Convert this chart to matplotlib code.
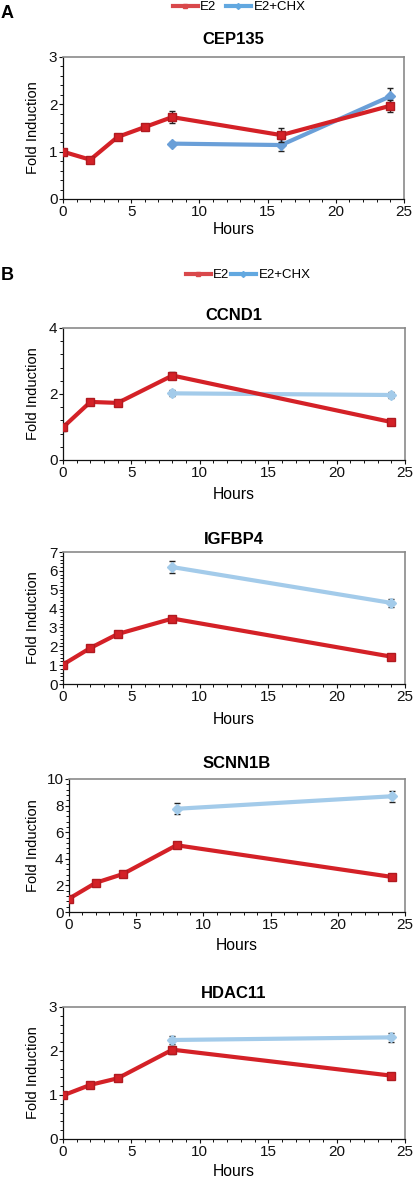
import matplotlib
matplotlib.use("Agg")
import matplotlib.pyplot as plt
from matplotlib.ticker import MultipleLocator
from matplotlib.lines import Line2D

plt.rcParams['font.family'] = ['Liberation Sans', 'DejaVu Sans']

# ---- data ----
genes = ["CEP135", "CCND1", "IGFBP4", "SCNN1B", "HDAC11"]

cep135_e2_x = [0, 2, 4, 6, 8, 16, 24]
cep135_e2_y = [1.0, 0.83, 1.31, 1.52, 1.73, 1.35, 1.97]
cep135_e2_err = [0.02, 0.03, 0.04, 0.07, 0.12, 0.14, 0.13]
cep135_chx_x = [8, 16, 24]
cep135_chx_y = [1.17, 1.14, 2.17]
cep135_chx_err = [0.03, 0.12, 0.17]

ccnd1_e2_x = [0, 2, 4, 8, 24]
ccnd1_e2_y = [0.99, 1.76, 1.73, 2.56, 1.15]
ccnd1_e2_err = [0.1, 0.05, 0.06, 0.12, 0.06]
ccnd1_chx_x = [8, 24]
ccnd1_chx_y = [2.02, 1.97]
ccnd1_chx_err = [0.09, 0.08]

igfbp4_e2_x = [0, 2, 4, 8, 24]
igfbp4_e2_y = [1.03, 1.91, 2.65, 3.47, 1.45]
igfbp4_e2_err = [0.12, 0.1, 0.12, 0.12, 0.1]
igfbp4_chx_x = [8, 24]
igfbp4_chx_y = [6.2, 4.3]
igfbp4_chx_err = [0.3, 0.2]

scnn1b_e2_x = [0, 2, 4, 8, 24]
scnn1b_e2_y = [1.0, 2.2, 2.85, 5.02, 2.64]
scnn1b_e2_err = [0.2, 0.15, 0.15, 0.2, 0.15]
scnn1b_chx_x = [8, 24]
scnn1b_chx_y = [7.76, 8.7]
scnn1b_chx_err = [0.4, 0.4]

hdac11_e2_x = [0, 2, 4, 8, 24]
hdac11_e2_y = [0.99, 1.23, 1.38, 2.03, 1.44]
hdac11_e2_err = [0.03, 0.03, 0.03, 0.09, 0.03]
hdac11_chx_x = [8, 24]
hdac11_chx_y = [2.25, 2.31]
hdac11_chx_err = [0.09, 0.1]

x_ticks = [0, 5, 10, 15, 20, 25]

# ---- style ----
W, H = 414, 1179
RED = '#d42127'
BLUE_A = '#6a9fd8'
BLUE_B = '#a3cbea'

panels = [
    ("CEP135", (cep135_e2_x, cep135_e2_y, cep135_e2_err), (cep135_chx_x, cep135_chx_y, cep135_chx_err),
     3, 1, 0.2, (63, 404, 57, 199), 40, 229, BLUE_A),
    ("CCND1", (ccnd1_e2_x, ccnd1_e2_y, ccnd1_e2_err), (ccnd1_chx_x, ccnd1_chx_y, ccnd1_chx_err),
     4, 2, 0.4, (63, 405, 328, 460), 315, 494, BLUE_B),
    ("IGFBP4", (igfbp4_e2_x, igfbp4_e2_y, igfbp4_e2_err), (igfbp4_chx_x, igfbp4_chx_y, igfbp4_chx_err),
     7, 1, 0.2, (63, 405, 552, 684), 539, 719, BLUE_B),
    ("SCNN1B", (scnn1b_e2_x, scnn1b_e2_y, scnn1b_e2_err), (scnn1b_chx_x, scnn1b_chx_y, scnn1b_chx_err),
     10, 2, 0.4, (69, 405, 779, 912), 764, 946, BLUE_B),
    ("HDAC11", (hdac11_e2_x, hdac11_e2_y, hdac11_e2_err), (hdac11_chx_x, hdac11_chx_y, hdac11_chx_err),
     3, 1, 0.2, (63, 405, 1007, 1139), 993, 1172, BLUE_B),
]

fig = plt.figure(figsize=(W / 100, H / 100), dpi=100)

for gene, e2, chx, ymax, ymaj, ymin_, (l, r, t, b), ty, hy, blue in panels:
    ax = fig.add_axes([l / W, 1 - b / H, (r - l) / W, (b - t) / H])
    ax.errorbar(chx[0], chx[1], yerr=chx[2], color=blue, lw=3.0, marker='D', ms=5.5,
                mfc=blue, mec=blue, ecolor='#222222', elinewidth=1.0, capsize=2.5,
                capthick=1.0, zorder=3)
    ax.errorbar(e2[0], e2[1], yerr=e2[2], color=RED, lw=3.0, marker='s', ms=5.5,
                mfc=RED, mec='#b01a20', ecolor='#222222', elinewidth=1.0, capsize=2.5,
                capthick=1.0, zorder=4)
    ax.set_xlim(0, 25)
    ax.set_ylim(0, ymax)
    ax.set_xticks(x_ticks)
    ax.xaxis.set_minor_locator(MultipleLocator(1))
    ax.yaxis.set_major_locator(MultipleLocator(ymaj))
    ax.yaxis.set_minor_locator(MultipleLocator(ymin_))
    ax.tick_params(which='major', direction='out', length=3, width=0.8, labelsize=11, pad=1.0,
                   colors='#111111')
    ax.tick_params(which='minor', direction='out', length=2, width=0.7, colors='#111111')
    for side in ('top', 'right'):
        ax.spines[side].set_color('#8a8a8a')
        ax.spines[side].set_linewidth(1.2)
    for side in ('left', 'bottom'):
        ax.spines[side].set_color('#111111')
        ax.spines[side].set_linewidth(0.9)
    ax.set_ylabel("Fold Induction", fontsize=10.5)
    ax.yaxis.set_label_coords((40 - l) / (r - l), 0.5)
    fig.text((l + r) / 2 / W, 1 - ty / H, gene, ha='center', va='center',
             fontsize=12, fontweight='bold')
    fig.text((l + r) / 2 / W, 1 - hy / H, "Hours", ha='center', va='center', fontsize=11.3)

# panel letters
fig.text(1 / W, 1 - 13 / H, "A", ha='left', va='center', fontsize=13, fontweight='bold')
fig.text(1 / W, 1 - 275 / H, "B", ha='left', va='center', fontsize=13, fontweight='bold')

# legends
handles_a = [Line2D([], [], color='#d9484b', lw=3.0, marker='s', ms=3),
             Line2D([], [], color='#62a8e0', lw=3.0, marker='D', ms=3)]
handles_b = [Line2D([], [], color='#d9484b', lw=3.0, marker='s', ms=3),
             Line2D([], [], color='#62a8e0', lw=3.0, marker='D', ms=3)]
fig.legend(handles_a, ["E2", "E2+CHX"], loc='center', bbox_to_anchor=(239 / W, 1 - 7 / H),
           ncol=2, frameon=False, fontsize=9.5, handlelength=1.9, handletextpad=0.2,
           columnspacing=0.7, borderpad=0)
fig.legend(handles_b, ["E2", "E2+CHX"], loc='center', bbox_to_anchor=(248 / W, 1 - 275 / H),
           ncol=2, frameon=False, fontsize=9.5, handlelength=1.9, handletextpad=0.2,
           columnspacing=0.1, borderpad=0)

fig.savefig("out.png", dpi=100)
